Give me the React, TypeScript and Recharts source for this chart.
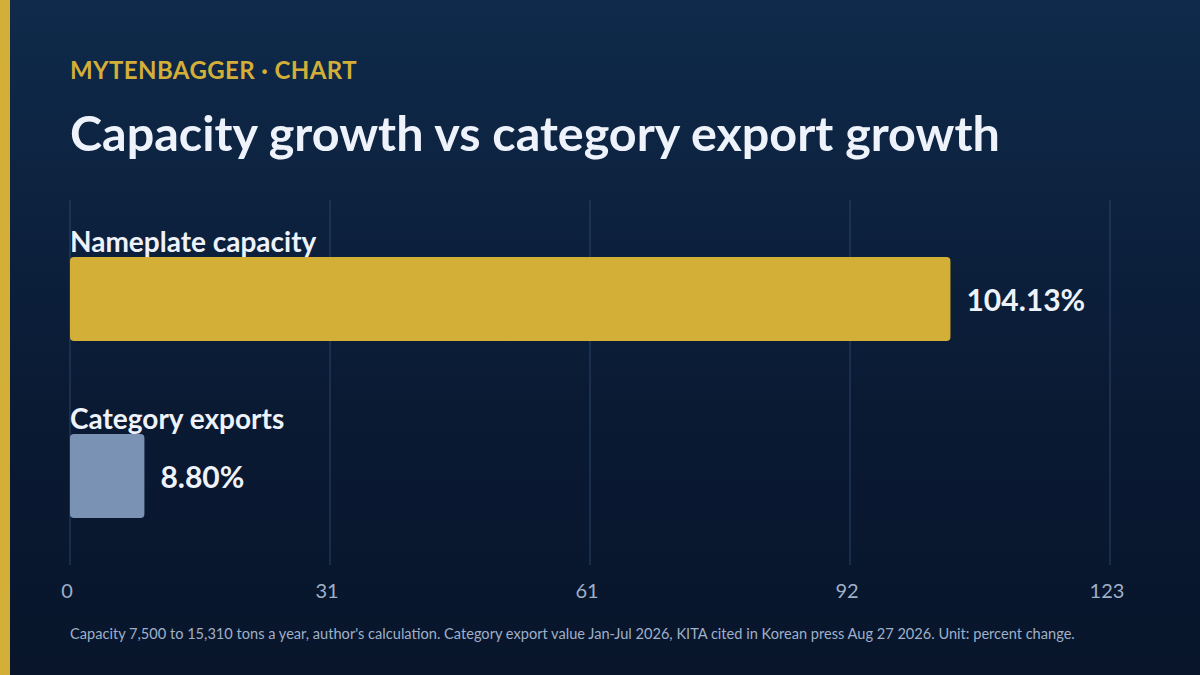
import React from 'react';
import { BarChart, Bar, XAxis, YAxis, CartesianGrid, Cell, LabelList } from 'recharts';

const categories = ['Nameplate capacity', 'Category exports'];
const growthPct = [104.13, 8.8];
const barColors = ['#d4af37', '#7a93b5'];
const tickValues = [0, 30.75, 61.5, 92.25, 123];
const tickLabels = ['0', '31', '61', '92', '123'];

const data = categories.map((name, i) => ({ name, value: growthPct[i] }));

const FONT = 'Lato, "Noto Sans", sans-serif';

const NameLabel = (props: any) => {
  const { x, y, value } = props;
  return (
    <text x={x} y={y - 5} fill="#eef2fa" fontSize={28} fontWeight={700} fontFamily={FONT}>
      {value}
    </text>
  );
};

const ValueLabel = (props: any) => {
  const { x, y, width, height, value } = props;
  return (
    <text
      x={x + width + 16}
      y={y + height / 2}
      dominantBaseline="central"
      fill="#eef2fa"
      fontSize={30}
      fontWeight={700}
      fontFamily={FONT}
    >
      {value.toFixed(2)}%
    </text>
  );
};

export default function App() {
  return (
    <div
      style={{
        position: 'absolute',
        top: 0,
        left: 0,
        width: 1200,
        height: 675,
        overflow: 'hidden',
        background: 'linear-gradient(180deg, #0f2a4b 0%, #0a1a33 60%, #08152b 100%)',
        fontFamily: FONT,
      }}
    >
      <div style={{ position: 'absolute', left: 0, top: 0, width: 10, height: 675, background: '#d4af37' }} />
      <div
        style={{
          position: 'absolute',
          left: 70,
          top: 55,
          color: '#d4af37',
          fontSize: 24,
          fontWeight: 700,
          letterSpacing: 0.4,
          lineHeight: '30px',
          whiteSpace: 'pre',
        }}
      >
        MYTENBAGGER · CHART
      </div>
      <div
        style={{
          position: 'absolute',
          left: 70,
          top: 100,
          color: '#eef2fa',
          fontSize: 48.5,
          fontWeight: 700,
          lineHeight: '64px',
          whiteSpace: 'nowrap',
        }}
      >
        Capacity growth vs category export growth
      </div>
      <div style={{ position: 'absolute', left: 0, top: 0 }}>
        <BarChart
          width={1200}
          height={675}
          data={data}
          layout="vertical"
          margin={{ top: 200, right: 90, bottom: 70, left: 70 }}
        >
          <CartesianGrid horizontal={false} stroke="#2b4568" strokeWidth={1} />
          <XAxis
            type="number"
            domain={[0, 123]}
            ticks={tickValues}
            tickFormatter={(v: number) => tickLabels[tickValues.indexOf(v)]}
            axisLine={false}
            tickLine={false}
            height={40}
            tickMargin={13}
            tick={{ fill: '#9fb0c8', fontSize: 20, fontFamily: FONT, dx: -3 }}
          />
          <YAxis type="category" dataKey="name" hide padding={{ top: 10, bottom: 1 }} />
          <Bar dataKey="value" barSize={84} radius={4} isAnimationActive={false}>
            {data.map((d, i) => (
              <Cell key={d.name} fill={barColors[i]} />
            ))}
            <LabelList dataKey="name" content={NameLabel} />
            <LabelList dataKey="value" content={ValueLabel} />
          </Bar>
        </BarChart>
      </div>
      <div
        style={{
          position: 'absolute',
          left: 70,
          top: 624,
          color: '#9fb0c8',
          fontSize: 14.6,
          lineHeight: '20px',
          whiteSpace: 'nowrap',
        }}
      >
        Capacity 7,500 to 15,310 tons a year, author's calculation. Category export value Jan-Jul 2026, KITA cited in Korean press Aug 27 2026. Unit: percent change.
      </div>
    </div>
  );
}
